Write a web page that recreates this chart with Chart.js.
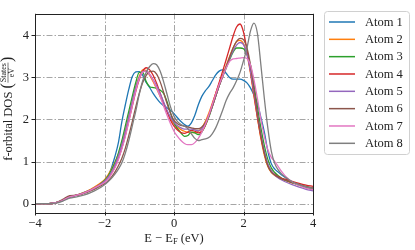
<!DOCTYPE html>
<html><head><meta charset="utf-8">
<script src="https://cdn.jsdelivr.net/npm/chart.js@4.4.0/dist/chart.umd.min.js"></script>
<style>html,body{margin:0;padding:0;background:#fff;overflow:hidden}</style>
</head><body>
<canvas id="c" width="415" height="250"></canvas>
<script>
const energies = [-4.0,-3.8,-3.6,-3.4,-3.2,-3.0,-2.8,-2.6,-2.4,-2.2,
 -2.0,-1.9,-1.8,-1.7,-1.6,-1.5,-1.4,-1.3,-1.2,-1.1,
 -1.0,-0.9,-0.8,-0.7,-0.6,-0.5,-0.4,-0.3,-0.2,-0.1,
 0.0,0.1,0.2,0.3,0.4,0.5,0.6,0.7,0.8,0.9,
 1.0,1.1,1.2,1.3,1.4,1.5,1.6,1.7,1.8,1.9,
 2.0,2.1,2.2,2.3,2.4,2.5,2.6,2.7,2.8,2.9,
 3.0,3.1,3.2,3.4,3.6,3.8,4.0];

const atomLabels = ['Atom 1','Atom 2','Atom 3','Atom 4','Atom 5','Atom 6','Atom 7','Atom 8'];
const atomColors = ['#1f77b4','#ff7f0e','#2ca02c','#d62728','#9467bd','#8c564b','#e377c2','#7f7f7f'];

const atom1 = [0,0,0,0.02,0.07,0.15,0.2,0.26,0.33,0.43,
 0.55,0.65,0.85,1.12,1.45,1.95,2.35,2.72,3.02,3.13,
 3.14,3.05,2.88,2.76,2.62,2.5,2.4,2.33,2.28,2.22,
 2.14,2.04,1.95,1.88,1.84,1.92,2.1,2.35,2.55,2.68,
 2.78,2.92,3.06,3.15,3.18,3.1,3.0,2.96,2.96,2.96,
 2.93,2.87,2.75,2.58,2.38,2.05,1.7,1.25,0.95,0.82,
 0.75,0.68,0.62,0.52,0.45,0.4,0.36];
const atom2 = [0,0,0,0.02,0.08,0.16,0.2,0.26,0.34,0.44,
 0.57,0.68,0.82,0.98,1.18,1.45,1.75,2.1,2.45,2.78,
 3.02,3.18,3.17,3.05,2.9,2.73,2.55,2.38,2.2,2.02,
 1.9,1.82,1.76,1.72,1.7,1.69,1.69,1.72,1.8,1.95,
 2.15,2.38,2.62,2.85,3.05,3.28,3.5,3.7,3.85,3.88,
 3.8,3.55,3.1,2.55,2.05,1.55,1.15,0.88,0.74,0.67,
 0.62,0.58,0.55,0.49,0.44,0.39,0.35];
const atom3 = [0,0,0,0.02,0.08,0.17,0.2,0.25,0.32,0.41,
 0.55,0.65,0.8,0.97,1.2,1.5,1.85,2.2,2.55,2.88,
 3.12,3.12,2.9,2.78,2.76,2.74,2.7,2.62,2.42,2.15,
 1.92,1.78,1.68,1.6,1.62,1.7,1.68,1.64,1.7,1.85,
 2.05,2.3,2.55,2.8,3.02,3.22,3.42,3.6,3.7,3.7,
 3.68,3.55,3.3,2.85,2.3,1.8,1.38,1.05,0.85,0.74,
 0.66,0.6,0.56,0.5,0.44,0.38,0.33];
const atom4 = [0,0,0,0.02,0.08,0.16,0.2,0.25,0.32,0.41,
 0.52,0.6,0.72,0.87,1.07,1.32,1.62,1.97,2.32,2.67,
 2.95,3.15,3.23,3.18,3.05,2.86,2.63,2.4,2.18,1.98,
 1.84,1.75,1.69,1.67,1.7,1.74,1.72,1.68,1.72,1.86,
 2.08,2.35,2.62,2.88,3.15,3.42,3.7,3.98,4.2,4.27,
 4.08,3.65,3.15,2.6,2.05,1.58,1.2,0.92,0.77,0.69,
 0.64,0.6,0.58,0.53,0.48,0.44,0.41];
const atom5 = [0,0,0,0.02,0.08,0.16,0.2,0.25,0.32,0.41,
 0.53,0.62,0.75,0.92,1.13,1.4,1.72,2.07,2.43,2.76,
 3.0,3.14,3.15,3.07,2.95,2.8,2.62,2.42,2.22,2.05,
 1.93,1.85,1.8,1.77,1.77,1.77,1.75,1.73,1.78,1.9,
 2.08,2.3,2.55,2.8,3.03,3.25,3.45,3.63,3.77,3.83,
 3.78,3.55,3.15,2.65,2.12,1.65,1.25,0.95,0.78,0.68,
 0.61,0.56,0.52,0.45,0.39,0.34,0.3];
const atom6 = [0,0,0,0.02,0.1,0.19,0.2,0.24,0.3,0.38,
 0.47,0.54,0.63,0.75,0.9,1.08,1.32,1.62,1.95,2.3,
 2.62,2.88,3.05,3.14,3.15,3.08,2.9,2.65,2.38,2.15,
 1.98,1.9,1.86,1.84,1.82,1.8,1.78,1.78,1.82,1.92,
 2.08,2.3,2.55,2.8,3.02,3.25,3.48,3.7,3.86,3.93,
 3.9,3.7,3.3,2.75,2.15,1.62,1.2,0.9,0.75,0.68,
 0.63,0.59,0.56,0.5,0.45,0.41,0.37];
const atom7 = [0,0,0,0.02,0.08,0.16,0.2,0.25,0.32,0.41,
 0.5,0.58,0.7,0.85,1.05,1.3,1.6,1.95,2.32,2.68,
 2.97,3.13,3.15,3.07,2.93,2.75,2.55,2.32,2.1,1.9,
 1.72,1.6,1.5,1.43,1.4,1.4,1.45,1.55,1.7,1.88,
 2.1,2.35,2.6,2.83,3.03,3.22,3.38,3.44,3.45,3.46,
 3.47,3.45,3.3,2.95,2.5,2.0,1.6,1.28,1.1,1.0,
 0.88,0.76,0.66,0.52,0.43,0.37,0.33];
const atom8 = [0,0,0,0.01,0.06,0.13,0.16,0.2,0.26,0.34,
 0.45,0.52,0.6,0.7,0.82,0.97,1.2,1.5,1.85,2.2,
 2.6,2.92,3.12,3.26,3.33,3.3,3.15,2.9,2.6,2.3,
 2.08,1.95,1.88,1.84,1.78,1.66,1.55,1.5,1.52,1.54,
 1.57,1.66,1.8,2.0,2.22,2.45,2.62,2.75,2.92,3.12,
 3.4,3.7,4.1,4.29,4.05,3.3,2.5,1.8,1.25,0.95,
 0.8,0.7,0.63,0.52,0.45,0.4,0.36];
const atomSeries = [atom1,atom2,atom3,atom4,atom5,atom6,atom7,atom8];

const xTicks = [-4,-2,0,2,4];
const yTicks = [0,1,2,3,4];
const xRange = [-4,4];
const yRange = [-0.2,4.52];

const SERIF = '"Liberation Serif","DejaVu Serif",serif';
const fmt = v => (v < 0 ? '\u2212' + Math.abs(v) : String(v));

const datasets = atomSeries.map((s,i) => ({
  label: atomLabels[i],
  data: s.map((v,j) => ({x: energies[j], y: v})),
  borderColor: atomColors[i],
  backgroundColor: atomColors[i],
  borderWidth: 1.3,
  pointRadius: 0,
  cubicInterpolationMode: 'monotone',
  order: atomSeries.length - i,
  fill: false
}));

const decor = {
  id: 'decor',
  beforeDatasetsDraw(chart) {
    const ctx = chart.ctx, a = chart.chartArea;
    const xs = chart.scales.x, ys = chart.scales.y;
    ctx.save();
    ctx.strokeStyle = '#a6a6a6';
    ctx.lineWidth = 1;
    ctx.setLineDash([6,2,1.5,2]);
    xTicks.forEach(t => {
      const px = Math.round(xs.getPixelForValue(t)) + 0.5;
      ctx.beginPath(); ctx.moveTo(px, a.top); ctx.lineTo(px, a.bottom); ctx.stroke();
    });
    yTicks.forEach(t => {
      const py = Math.round(ys.getPixelForValue(t)) + 0.5;
      ctx.beginPath(); ctx.moveTo(a.left, py); ctx.lineTo(a.right, py); ctx.stroke();
    });
    ctx.restore();
  },
  afterDraw(chart) {
    const ctx = chart.ctx, a = chart.chartArea;
    const xs = chart.scales.x, ys = chart.scales.y;
    ctx.save();
    ctx.strokeStyle = '#222';
    ctx.lineWidth = 1;
    ctx.setLineDash([]);
    ctx.strokeRect(Math.round(a.left)+0.5, Math.round(a.top)+0.5, Math.round(a.right-a.left), Math.round(a.bottom-a.top));
    ctx.beginPath();
    xTicks.forEach(t => {
      const px = Math.round(xs.getPixelForValue(t)) + 0.5;
      ctx.moveTo(px, a.bottom); ctx.lineTo(px, a.bottom + 3.5);
    });
    yTicks.forEach(t => {
      const py = Math.round(ys.getPixelForValue(t)) + 0.5;
      ctx.moveTo(a.left, py); ctx.lineTo(a.left - 3.5, py);
    });
    ctx.stroke();

    // x title
    ctx.fillStyle = '#222';
    ctx.textBaseline = 'alphabetic';
    const big = '12.5px ' + SERIF, small = '8.5px ' + SERIF;
    ctx.font = big;
    const p1 = 'E \u2212 E', p3 = ' (eV)';
    const w1 = ctx.measureText(p1).width, w3 = ctx.measureText(p3).width;
    ctx.font = small;
    const w2 = ctx.measureText('F').width;
    const cx = (a.left + a.right) / 2;
    let x0 = cx - (w1 + w2 + w3) / 2;
    const by = 242;
    ctx.font = big; ctx.fillText(p1, x0, by);
    ctx.font = small; ctx.fillText('F', x0 + w1, by + 2);
    ctx.font = big; ctx.fillText(p3, x0 + w1 + w2, by);

    // y title (rotated)
    ctx.save();
    ctx.translate(8, (a.top + a.bottom) / 2 - 4);
    ctx.rotate(-Math.PI / 2);
    ctx.font = big;
    const q1 = 'f-orbital DOS ';
    const wq1 = ctx.measureText(q1).width;
    ctx.font = '16px ' + SERIF;
    const wp = ctx.measureText('(').width;
    ctx.font = '8px ' + SERIF;
    const wn = ctx.measureText('States').width;
    const total = wq1 + wp + wn + 2 + wp;
    let u = -total / 2;
    ctx.textBaseline = 'middle';
    ctx.font = big; ctx.fillText(q1, u, 0.5); u += wq1;
    ctx.font = '16px ' + SERIF; ctx.fillText('(', u, 0); u += wp;
    ctx.font = '8px ' + SERIF;
    ctx.textAlign = 'center';
    ctx.fillText('States', u + 1 + wn / 2, -3.6);
    ctx.fillText('eV', u + 1 + wn / 2, 4.2);
    ctx.lineWidth = 0.6;
    ctx.beginPath(); ctx.moveTo(u + 0.5, 0); ctx.lineTo(u + wn + 1.5, 0); ctx.stroke();
    ctx.textAlign = 'left';
    u += wn + 2;
    ctx.font = '16px ' + SERIF; ctx.fillText(')', u, 0);
    ctx.restore();

    // legend
    const lx = 324.5, ly = 11.5, lw = 85, lh = 143, r = 3;
    ctx.beginPath();
    ctx.moveTo(lx + r, ly);
    ctx.arcTo(lx + lw, ly, lx + lw, ly + lh, r);
    ctx.arcTo(lx + lw, ly + lh, lx, ly + lh, r);
    ctx.arcTo(lx, ly + lh, lx, ly, r);
    ctx.arcTo(lx, ly, lx + lw, ly, r);
    ctx.closePath();
    ctx.fillStyle = 'rgba(255,255,255,0.8)';
    ctx.fill();
    ctx.strokeStyle = '#d0d0d0';
    ctx.lineWidth = 1;
    ctx.stroke();
    ctx.font = '12.5px ' + SERIF;
    ctx.textBaseline = 'middle';
    chart.data.datasets.forEach((d, i) => {
      const yy = 22 + i * 17.33;
      ctx.strokeStyle = d.borderColor;
      ctx.lineWidth = 1.5;
      ctx.beginPath(); ctx.moveTo(329, yy); ctx.lineTo(355, yy); ctx.stroke();
      ctx.fillStyle = '#222';
      ctx.fillText(d.label, 365, yy + 0.5);
    });
    ctx.restore();
  }
};

new Chart(document.getElementById('c'), {
  type: 'line',
  data: { datasets },
  options: {
    responsive: false,
    animation: false,
    devicePixelRatio: 1,
    layout: { padding: { left: 0, right: 102, top: 5, bottom: 0 } },
    plugins: { legend: { display: false }, tooltip: { enabled: false } },
    scales: {
      x: {
        type: 'linear', min: xRange[0], max: xRange[1],
        afterBuildTicks: s => { s.ticks = xTicks.map(v => ({value: v})); },
        afterFit: s => { s.height = 38; },
        grid: { display: false, drawTicks: false },
        border: { display: false },
        ticks: { font: { family: SERIF, size: 12.5 }, color: '#222', padding: 4, maxRotation: 0, callback: v => fmt(v) }
      },
      y: {
        type: 'linear', min: yRange[0], max: yRange[1],
        afterBuildTicks: s => { s.ticks = yTicks.map(v => ({value: v})); },
        afterFit: s => { s.width = 35; },
        grid: { display: false, drawTicks: false },
        border: { display: false },
        ticks: { font: { family: SERIF, size: 12.5 }, color: '#222', padding: 6, callback: v => fmt(v) }
      }
    }
  },
  plugins: [decor]
});
</script>
</body></html>
